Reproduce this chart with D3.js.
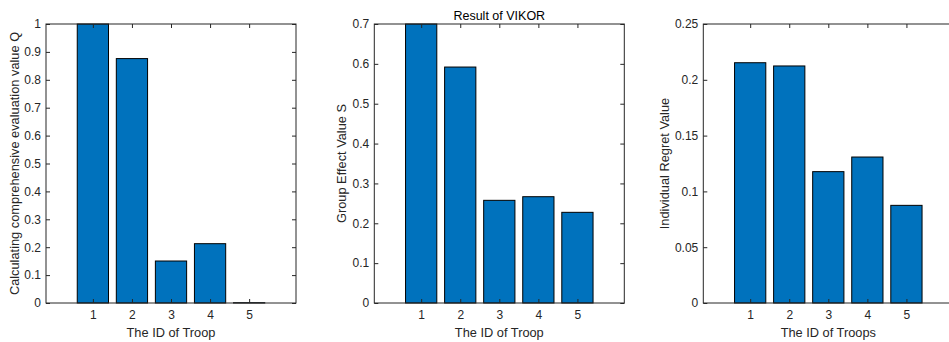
<!DOCTYPE html>
<html>
<head>
<meta charset="utf-8">
<script src="https://cdn.jsdelivr.net/npm/d3@7"></script>
<style>
  html, body { margin: 0; padding: 0; background: #fff; }
  svg { display: block; font-family: 'Liberation Sans', Arial, sans-serif; }
</style>
</head>
<body>
<div id="chart"></div>
<script>
// troop ids
const troops = [1, 2, 3, 4, 5];

// series values
const qValues = [1.0, 0.876, 0.1505, 0.2126, 0.001];
const sValues = [0.7, 0.592, 0.2576, 0.2667, 0.2275];
const rValues = [0.2153, 0.2124, 0.1177, 0.1308, 0.0875];

// tick labels
const qTicks = ['0', '0.1', '0.2', '0.3', '0.4', '0.5', '0.6', '0.7', '0.8', '0.9', '1'];
const sTicks = ['0', '0.1', '0.2', '0.3', '0.4', '0.5', '0.6', '0.7'];
const rTicks = ['0', '0.05', '0.1', '0.15', '0.2', '0.25'];

const W = 949, H = 342;
const axisColor = '#262626';
const barColor = '#0072BD';
const plotTop = 24, plotBottom = 303, plotW = 250;
const tickLen = 4;

const svg = d3.select('#chart').append('svg').attr('width', W).attr('height', H);

const panels = [
  { left: 46, values: qValues, ticks: qTicks, ylabel: 'Calculating comprehensive evaluation value Q', xlabel: 'The ID of Troop', labelX: 19, title: '' },
  { left: 374.3, values: sValues, ticks: sTicks, ylabel: 'Group Effect Value S', xlabel: 'The ID of Troop', labelX: 346, title: 'Result of VIKOR' },
  { left: 703.3, values: rValues, ticks: rTicks, ylabel: 'Individual Regret Value', xlabel: 'The ID of Troops', labelX: 669, title: '' },
];

panels.forEach(p => {
  const tickVals = p.ticks.map(Number);
  const yMax = d3.max(tickVals);

  const x = d3.scaleLinear().domain([-0.2, 6.2]).range([p.left, p.left + plotW]);
  const y = d3.scaleLinear().domain([0, yMax]).range([plotBottom, plotTop]);
  const bw = x(0.8) - x(0);

  const g = svg.append('g');

  // bars
  g.selectAll('rect.bar')
    .data(troops)
    .enter()
    .append('rect')
    .attr('class', 'bar')
    .attr('x', d => x(d) - bw / 2)
    .attr('y', (d, i) => y(p.values[i]))
    .attr('width', bw)
    .attr('height', (d, i) => y(0) - y(p.values[i]))
    .attr('fill', barColor)
    .attr('stroke', '#000')
    .attr('stroke-width', 1);

  // box with inward ticks on all sides
  const styleAxis = sel => {
    sel.select('.domain').remove();
    sel.selectAll('line').attr('stroke', axisColor);
    sel.selectAll('text')
      .attr('fill', axisColor)
      .style('font-size', '12px')
      .style('font-family', "'Liberation Sans', Arial, sans-serif");
  };

  g.append('g')
    .attr('transform', `translate(0,${plotBottom})`)
    .call(d3.axisBottom(x).tickValues(troops).tickSize(-tickLen).tickPadding(7).tickFormat(d3.format('d')))
    .call(styleAxis);

  g.append('g')
    .attr('transform', `translate(0,${plotTop})`)
    .call(d3.axisTop(x).tickValues(troops).tickSize(-tickLen).tickFormat(''))
    .call(styleAxis);

  g.append('g')
    .attr('transform', `translate(${p.left},0)`)
    .call(d3.axisLeft(y).tickValues(tickVals).tickSize(-tickLen).tickPadding(5).tickFormat((d, i) => p.ticks[i]))
    .call(styleAxis);

  g.append('g')
    .attr('transform', `translate(${p.left + plotW},0)`)
    .call(d3.axisRight(y).tickValues(tickVals).tickSize(-tickLen).tickFormat(''))
    .call(styleAxis);

  g.append('rect')
    .attr('x', p.left)
    .attr('y', plotTop)
    .attr('width', plotW)
    .attr('height', plotBottom - plotTop)
    .attr('fill', 'none')
    .attr('stroke', axisColor)
    .attr('stroke-width', 1);

  // labels
  g.append('text')
    .attr('x', x(3))
    .attr('y', 337)
    .attr('text-anchor', 'middle')
    .attr('fill', axisColor)
    .style('font-size', '12.8px')
    .text(p.xlabel);

  g.append('text')
    .attr('transform', `translate(${p.labelX},${(plotTop + plotBottom) / 2}) rotate(-90)`)
    .attr('text-anchor', 'middle')
    .attr('fill', axisColor)
    .style('font-size', '12.8px')
    .text(p.ylabel);

  if (p.title) {
    g.append('text')
      .attr('x', p.left + plotW / 2)
      .attr('y', 20)
      .attr('text-anchor', 'middle')
      .attr('fill', '#000')
      .style('font-size', '12.5px')
      .text(p.title);
  }
});
</script>
</body>
</html>
